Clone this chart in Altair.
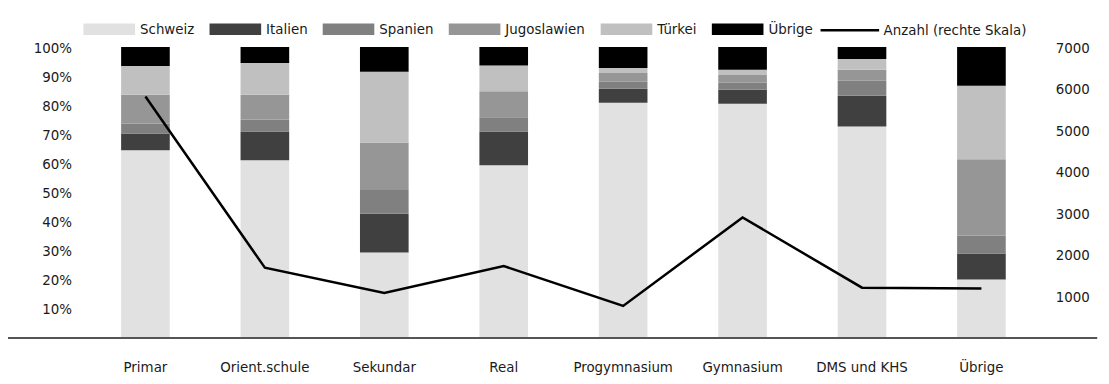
import altair as alt
import pandas as pd

categories = ["Primar", "Orient.schule", "Sekundar", "Real", "Progymnasium",
              "Gymnasium", "DMS und KHS", "Übrige"]
groups = ["Schweiz", "Italien", "Spanien", "Jugoslawien", "Türkei", "Übrige"]
schweiz = [64.5, 61.1, 29.4, 59.4, 80.9, 80.5, 72.7, 20.1]
italien = [5.8, 9.9, 13.3, 11.6, 4.8, 4.8, 10.6, 8.9]
spanien = [3.4, 4.1, 8.2, 4.9, 2.4, 2.4, 5.1, 6.2]
jugoslawien = [9.9, 8.5, 16.3, 8.9, 3.0, 2.7, 3.8, 26.2]
tuerkei = [9.9, 10.9, 24.3, 8.9, 1.7, 1.8, 3.7, 25.3]
uebrige = [6.5, 5.5, 8.5, 6.3, 7.2, 7.8, 4.1, 13.3]
anzahl = [5810, 1690, 1080, 1730, 770, 2900, 1210, 1190]
line_label = "Anzahl (rechte Skala)"
left_ticks = [10, 20, 30, 40, 50, 60, 70, 80, 90, 100]
right_ticks = [1000, 2000, 3000, 4000, 5000, 6000, 7000]
colors = ["#e1e1e1", "#404040", "#808080", "#969696", "#c0c0c0", "#000000"]

series = [schweiz, italien, spanien, jugoslawien, tuerkei, uebrige]
rows = []
for gi, (g, vals) in enumerate(zip(groups, series)):
    for c, v in zip(categories, vals):
        rows.append({"Schule": c, "Herkunft": g, "Anteil": v, "ord": gi})
bars_df = pd.DataFrame(rows)
line_df = pd.DataFrame({"Schule": categories, "Anzahl": anzahl,
                        "Serie": [line_label] * len(categories)})

FONT = "DejaVu Sans Condensed, DejaVu Sans, sans-serif"
FS = 15
TXT = "#1a1a1a"
W, H = 963, 293

xenc = alt.X("Schule:N", sort=categories,
             scale=alt.Scale(paddingInner=0.5927, paddingOuter=0.2988),
             axis=alt.Axis(title=None, ticks=False, domain=False, labelAngle=0,
                           labelPadding=22, labelFontSize=FS, labelFont=FONT,
                           labelColor=TXT))

bars = alt.Chart(bars_df).mark_bar().encode(
    x=xenc,
    y=alt.Y("Anteil:Q", stack="zero",
            scale=alt.Scale(domain=[0, 100], nice=False),
            axis=alt.Axis(title=None, values=left_ticks, labelExpr="datum.value + '%'",
                          ticks=False, domain=False, grid=False, labelPadding=14,
                          labelFontSize=FS, labelFont=FONT, labelColor=TXT)),
    color=alt.Color("Herkunft:N", sort=groups,
                    scale=alt.Scale(domain=groups, range=colors),
                    legend=alt.Legend(title=None, orient="none", legendX=-2, legendY=-44,
                                      direction="horizontal", columns=6,
                                      symbolType="M-1,-0.22H1V0.22H-1Z", symbolSize=2704,
                                      symbolStrokeWidth=0, labelOffset=5,
                                      columnPadding=15, labelFontSize=FS,
                                      labelFont=FONT, labelColor=TXT)),
    order=alt.Order("ord:Q", sort="ascending"),
)

line = alt.Chart(line_df).mark_line(color="black", strokeWidth=2.5).encode(
    x=alt.X("Schule:N", sort=categories),
    y=alt.Y("Anzahl:Q", scale=alt.Scale(domain=[0, 7000], nice=False),
            axis=alt.Axis(title=None, orient="right", values=right_ticks, format="d",
                          ticks=False, domain=False, grid=False, labelPadding=14,
                          labelFontSize=FS, labelFont=FONT, labelColor=TXT)),
    stroke=alt.Stroke("Serie:N", scale=alt.Scale(domain=[line_label], range=["black"]),
                      legend=alt.Legend(title=None, orient="none", legendX=739, legendY=-48,
                                        symbolType="stroke", symbolSize=3481,
                                        symbolStrokeWidth=2.5, labelOffset=3,
                                        labelFontSize=FS, labelFont=FONT, labelColor=TXT)),
)

bottom_rule = alt.Chart(line_df).mark_rule(color="#555555", strokeWidth=2).encode(
    x=alt.value(-81), x2=alt.value(1019), y=alt.value(H))
top_rule = alt.Chart(line_df).mark_rule(color="#222222", strokeWidth=2).encode(
    x=alt.value(-81), x2=alt.value(1019), y=alt.value(-42))

chart = alt.layer(bars, bottom_rule, top_rule, line).resolve_scale(
    y="independent", color="independent", stroke="independent"
).properties(
    width=W, height=H,
    autosize=alt.AutoSizeParams(type="none"),
    padding={"left": 78, "top": 38, "right": 60, "bottom": 45},
).configure(font=FONT).configure_view(strokeWidth=0, stroke="transparent")

chart.save("out.html", embed_options={"renderer": "svg", "actions": False})
